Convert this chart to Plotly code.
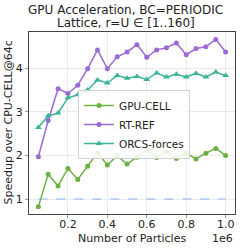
import plotly.graph_objects as go

particles = [50000 * i for i in range(1, 21)]
gpu_cell = [0.82, 1.57, 1.30, 1.70, 1.45, 1.75, 2.06, 1.78, 1.99, 1.80,
            1.96, 2.12, 1.95, 2.09, 1.93, 2.05, 1.92, 2.05, 2.16, 2.00]
rt_ref = [1.97, 2.80, 3.53, 3.42, 3.61, 3.99, 4.42, 3.99, 4.26, 4.37,
          4.54, 4.25, 4.42, 4.47, 4.58, 4.31, 4.45, 4.49, 4.66, 4.37]
orcs_forces = [2.64, 2.91, 2.97, 3.32, 3.39, 3.50, 3.73, 3.66, 3.83, 3.77,
               3.81, 3.74, 3.89, 3.80, 3.86, 3.80, 3.88, 3.80, 3.91, 3.83]
baseline = [1.0] * len(particles)
x_tickvals = [200000, 400000, 600000, 800000, 1000000]
x_ticktext = ["0.2", "0.4", "0.6", "0.8", "1.0"]
y_tickvals = [1, 2, 3, 4]

FONT = "DejaVu Sans"
fig = go.Figure()
fig.add_trace(go.Scatter(x=particles, y=baseline, mode="lines", showlegend=False,
                         line=dict(color="#8fb1ef", width=1.2, dash="dash")))
fig.add_trace(go.Scatter(x=particles, y=gpu_cell, mode="lines+markers", name="GPU-CELL",
                         line=dict(color="#6cb043", width=1.5),
                         marker=dict(symbol="circle", size=5, color="#6cb043")))
fig.add_trace(go.Scatter(x=particles, y=rt_ref, mode="lines+markers", name="RT-REF",
                         line=dict(color="#9c6ad6", width=1.5),
                         marker=dict(symbol="circle", size=5, color="#9c6ad6")))
fig.add_trace(go.Scatter(x=particles, y=orcs_forces, mode="lines+markers", name="ORCS-forces",
                         line=dict(color="#3bb396", width=1.5),
                         marker=dict(symbol="triangle-up", size=6, color="#3bb396")))

PT = 32   # plot top px
PH = 182  # plot height px
def py(pix):
    return (PT + PH - pix) / PH

fig.update_layout(
    width=240, height=248,
    margin=dict(l=29, r=5, t=32, b=34),
    paper_bgcolor="white", plot_bgcolor="white",
    font=dict(family=FONT, size=11, color="#222"),
    showlegend=True,
    legend=dict(x=0.238, y=py(90), xanchor="left", yanchor="top",
                bgcolor="rgba(255,255,255,0.85)", bordercolor="#d0d0d0", borderwidth=1,
                font=dict(family=FONT, size=10.5, color="#222"),
                tracegroupgap=0, itemwidth=30),
    xaxis=dict(range=[2500, 1047500], tickvals=x_tickvals, ticktext=x_ticktext,
               showgrid=True, gridcolor="#ebebeb", gridwidth=1,
               showline=True, linecolor="#444", linewidth=1, mirror=True,
               ticks="outside", ticklen=3, tickcolor="#999", ticklabelstandoff=-3,
               tickfont=dict(family=FONT, size=11, color="#222"), zeroline=False),
    yaxis=dict(range=[0.656, 4.83], tickvals=y_tickvals,
               showgrid=True, gridcolor="#ebebeb", gridwidth=1,
               showline=True, linecolor="#444", linewidth=1, mirror=True,
               ticks="outside", ticklen=3, tickcolor="#999",
               tickfont=dict(family=FONT, size=11, color="#222"), zeroline=False),
    annotations=[
        dict(text="GPU Acceleration, BC=PERIODIC",
             x=0.47, y=py(10), xref="paper", yref="paper",
             xanchor="center", yanchor="middle", showarrow=False,
             font=dict(family=FONT, size=12, color="#222")),
        dict(text="Lattice, r=U ∈ [1..160]",
             x=0.47, y=py(23.5), xref="paper", yref="paper",
             xanchor="center", yanchor="middle", showarrow=False,
             font=dict(family=FONT, size=12, color="#222")),
        dict(text="Number of Particles", x=0.5, y=py(238.5), xref="paper", yref="paper",
             xanchor="center", yanchor="middle", showarrow=False,
             font=dict(family=FONT, size=11, color="#222")),
        dict(text="1e6", x=1.0, y=py(238.5), xref="paper", yref="paper",
             xanchor="right", yanchor="middle", showarrow=False,
             font=dict(family=FONT, size=11, color="#222")),
        dict(text="Speedup over CPU-CELL@64c", x=0, y=0.5, xref="paper", yref="paper",
             xshift=-13, textangle=-90, xanchor="right", yanchor="middle", showarrow=False,
             font=dict(family=FONT, size=11, color="#222")),
    ],
)
fig.write_html("out.html", config={"displayModeBar": False},
               post_script="document.body.style.margin='0';document.body.style.overflow='hidden';")
